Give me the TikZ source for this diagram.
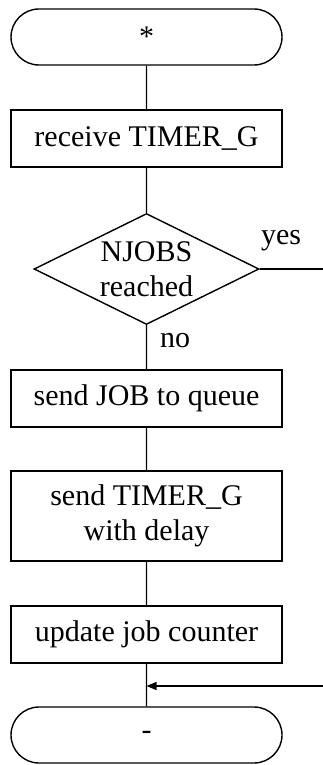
\documentclass[tikz,border=0pt]{standalone}
\usepackage{fontspec}
\setmainfont{Liberation Serif}
\usetikzlibrary{shapes.geometric,shapes.misc,arrows.meta}
\begin{document}
\begin{tikzpicture}[x=1pt,y=-1pt,line width=1.4pt,
  every node/.style={font=\fontsize{30}{35}\selectfont},
  term/.style={draw,rounded rectangle,minimum width=271pt,minimum height=56pt,inner sep=0pt},
  proc/.style={draw,rectangle,minimum width=271pt,minimum height=57pt,inner sep=0pt,align=center},
  dec/.style={draw,diamond,aspect=2,minimum width=225pt,minimum height=111pt,inner sep=0pt,align=center}]
\useasboundingbox (0,0) rectangle (323,765);
% flow chart, top to bottom
\node[term] (start) at (146.5,37) {*};
\node[proc] (recv) at (146.5,138.5) {receive TIMER\_G};
\node[dec] (njobs) at (146.5,269) {NJOBS\\reached};
\node[proc] (sendjob) at (146.5,398.5) {send JOB to queue};
\node[proc,minimum height=90pt] (sendtimer) at (146.5,516) {send TIMER\_G\\with delay};
\node[proc] (update) at (146.5,634.5) {update job counter};
\node[term] (stop) at (146.5,735) {-};
\coordinate (yesend) at (323,269);
\coordinate (back) at (323,686);
\draw (start) -- (recv) -- (njobs) -- (sendjob) -- (sendtimer) -- (update) -- (stop);
\draw (njobs.east) -- (yesend);
\node (yes) at (281,241) {yes};
\node (no) at (175,341) {no};
\draw[-{Triangle[length=10pt,width=8pt]}] (back) -- (back -| update.south);
\end{tikzpicture}
\end{document}
